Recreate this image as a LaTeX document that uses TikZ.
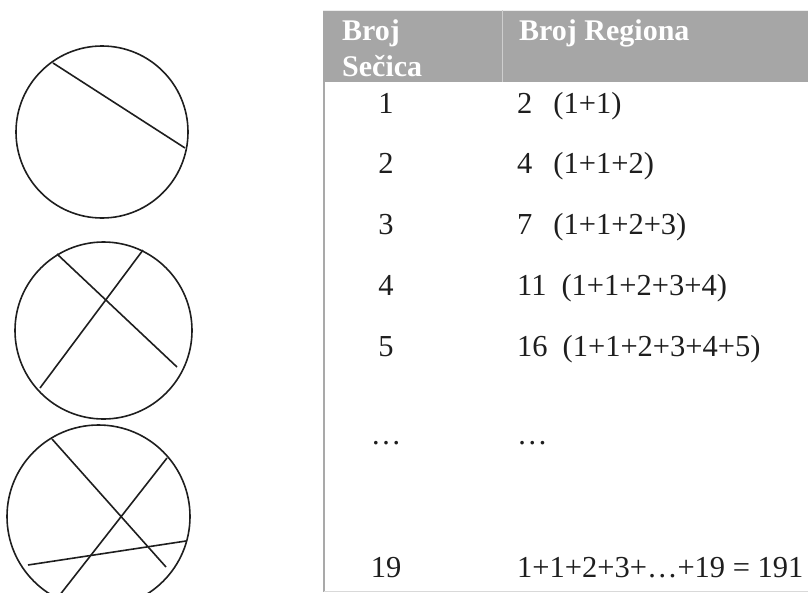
\documentclass[tikz,border=0pt]{standalone}
\usepackage{fontspec}
\setmainfont{Liberation Serif}
\definecolor{headgray}{HTML}{A6A6A6}
\definecolor{rulegray}{HTML}{A9A9A9}
\definecolor{ink}{HTML}{1E1E1E}
\begin{document}
\begin{tikzpicture}[x=1pt,y=-1pt,
  disc/.style={draw=ink,line width=1.6pt},
  cut/.style={draw=ink,line width=1.6pt},
  head/.style={text=white,font=\fontsize{30}{34}\selectfont\bfseries,anchor=base west,inner sep=0pt},
  numcell/.style={text=ink,font=\fontsize{30.5}{34}\selectfont,anchor=base,inner sep=0pt},
  sumcell/.style={text=ink,font=\fontsize{30.5}{34}\selectfont,anchor=base west,inner sep=0pt}]
\useasboundingbox (0,0) rectangle (808,592);
\clip (0,0) rectangle (808,592);

% ---- circles with chords ----
\draw[disc] (102,132) circle[radius=86];
\coordinate (a1) at (53,63);
\coordinate (a2) at (185,148);
\draw[cut] (a1) -- (a2);

\draw[disc] (103.5,330.5) circle[radius=88.5];
\coordinate (b1) at (57,254);
\coordinate (b2) at (177,367);
\coordinate (b3) at (143,250);
\coordinate (b4) at (40,388);
\draw[cut] (b1) -- (b2);
\draw[cut] (b3) -- (b4);

\draw[disc] (98.5,516.5) circle[radius=91.5];
\coordinate (c1) at (52,439);
\coordinate (c2) at (166,567);
\coordinate (c3) at (167,458);
\coordinate (c4) at (59,596);
\coordinate (c5) at (28,565);
\coordinate (c6) at (186,541);
\draw[cut] (c1) -- (c2);
\draw[cut] (c3) -- (c4);
\draw[cut] (c5) -- (c6);

% ---- table ----
\fill[headgray] (323,10) rectangle (808,82);
\draw[white!80!headgray,line width=1pt] (323,10.5) -- (808,10.5);
\draw[white!45!headgray,line width=1pt] (502,10) -- (502,82);
\draw[rulegray,line width=2pt] (324,82) -- (324,592);
\draw[black!15,line width=1pt] (324,591.5) -- (808,591.5);

\node[head] (h1a) at (342,40) {Broj};
\node[head] (h1b) at (342,76) {Sečica};
\node[head] (h2) at (519,40) {Broj Regiona};

\node[numcell] (n1) at (386,113) {1};
\node[numcell] (n2) at (386,173) {2};
\node[numcell] (n3) at (386,234) {3};
\node[numcell] (n4) at (386,295) {4};
\node[numcell] (n5) at (386,356) {5};
\node[numcell] (n6) at (386,444) {\ldots};
\node[numcell] (n7) at (386,577) {19};

\node[sumcell] (s1) at (517,113) {2\hspace{21pt}(1+1)};
\node[sumcell] (s2) at (517,173) {4\hspace{21pt}(1+1+2)};
\node[sumcell] (s3) at (517,234) {7\hspace{21pt}(1+1+2+3)};
\node[sumcell] (s4) at (517,295) {11\hspace{15pt}(1+1+2+3+4)};
\node[sumcell] (s5) at (517,356) {16\hspace{15pt}(1+1+2+3+4+5)};
\node[sumcell] (s6) at (517,444) {\ldots};
\node[sumcell] (s7) at (517,577) {1+1+2+3+\ldots+19 = 191};
\end{tikzpicture}
\end{document}
